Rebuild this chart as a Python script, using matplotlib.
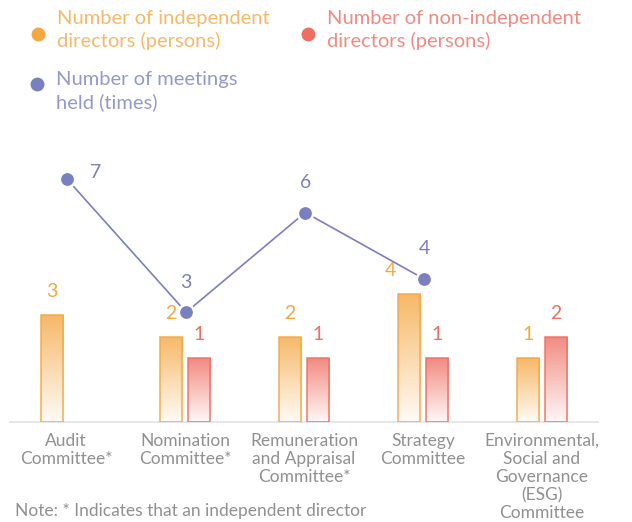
import numpy as np
import matplotlib.pyplot as plt
from matplotlib.lines import Line2D
from matplotlib.colors import to_rgb

plt.rcParams['font.family'] = ['Lato', 'DejaVu Sans']

committees = ["Audit\nCommittee*", "Nomination\nCommittee*", "Remuneration\nand Appraisal\nCommittee*",
              "Strategy\nCommittee", "Environmental,\nSocial and\nGovernance\n(ESG)\nCommittee"]
independent = [3, 2, 2, 4, 1]
non_independent = [0, 1, 1, 1, 2]
meetings = [7, 3, 6, 4, None]

C_IND = "#F5A742"
C_NON = "#EE6E62"
C_MEET = "#7A7FC0"
GREY = "#909090"

W, H = 632, 522
fig = plt.figure(figsize=(W / 100, H / 100), dpi=100)

# axes placed in pixel terms
left, right, bottom, top = 10, 598, 422, 150
ax = fig.add_axes([left / W, 1 - bottom / H, (right - left) / W, (bottom - top) / H])
ax2 = ax.twinx()

bar_min = -2
ax.set_ylim(bar_min, bar_min + (bottom - top) / 21.33)
ax2.set_ylim(-0.3, -0.3 + (bottom - top) / 33.25)
ax.set_xlim(-0.47, 4.47)

x = np.arange(len(committees))
bw = 0.185
off = 0.118


def gradient_bars(xs, vals, color, shift=None):
    rgb = np.array(to_rgb(color))
    for k, (xi, v) in enumerate(zip(xs, vals)):
        if v <= 0:
            continue
        h = v - bar_min
        rect = ax.bar(xi, h, bw, bottom=bar_min, facecolor="none",
                      edgecolor=color, linewidth=1.2, alpha=0.85, zorder=3)[0]
        t = np.linspace(1, 0, 100)[:, None]
        a = 0.05 + 0.75 * t
        img = np.ones((100, 1, 3)) * (1 - a[..., None]) + rgb * a[..., None]
        im = ax.imshow(img, extent=[xi - bw / 2, xi + bw / 2, bar_min, v],
                       aspect="auto", zorder=2, interpolation="bilinear")
        im.set_clip_path(rect)
        dx = shift[k] if shift else 0
        ax.text(xi + dx, v + 0.7, str(v), ha="center", va="bottom", color=color,
                fontsize=14, zorder=5)


# the strategy label is nudged left in the original to clear the marker
gradient_bars(x - off, independent, C_IND, shift=[0, 0, 0, -0.16, 0])
gradient_bars(x + off, non_independent, C_NON)

mx = [i + 0.01 for i, m in enumerate(meetings) if m is not None]
my = [m for m in meetings if m is not None]
ax2.plot(mx, my, color=C_MEET, linewidth=1.2, marker="o", markersize=11,
         markeredgewidth=1.8, markeredgecolor="white", zorder=4)
for i, (xi, yi) in enumerate(zip(mx, my)):
    if i == 0:
        ax2.text(xi + 0.19, yi + 0.2, str(yi), ha="left", va="center",
                 color=C_MEET, fontsize=14)
    else:
        ax2.text(xi, yi + 0.65, str(yi), ha="center", va="bottom",
                 color=C_MEET, fontsize=14)

for a in (ax, ax2):
    for s in a.spines.values():
        s.set_visible(False)
    a.set_yticks([])
ax.spines["bottom"].set_visible(True)
ax.spines["bottom"].set_color("#e2e2e2")
ax.spines["bottom"].set_linewidth(1.2)
ax.set_xticks(x)
ax.set_xticklabels(committees, color=GREY, fontsize=12.5, linespacing=1.15, va="top")
ax.tick_params(axis="x", length=0, pad=8)

# legend
legend_items = [
    (38, 34, 30, C_IND, "Number of independent\ndirectors (persons)"),
    (308, 34, 30, C_NON, "Number of non-independent\ndirectors (persons)"),
    (37, 84, 91, C_MEET, "Number of meetings\nheld (times)"),
]
for px, py, ty, c, label in legend_items:
    fig.add_artist(Line2D([px / W], [1 - py / H], marker="o", color=c,
                          markersize=10, markeredgewidth=0, linestyle="none",
                          transform=fig.transFigure))
    fig.text((px + 19) / W, 1 - ty / H, label, color=c, alpha=0.8, fontsize=14.5,
             ha="left", va="center", linespacing=1.35)

fig.text(15 / W, 1 - 511 / H, "Note: * Indicates that an independent director",
         color=GREY, fontsize=12.5, ha="left", va="center")

fig.savefig("out.png", dpi=100)
